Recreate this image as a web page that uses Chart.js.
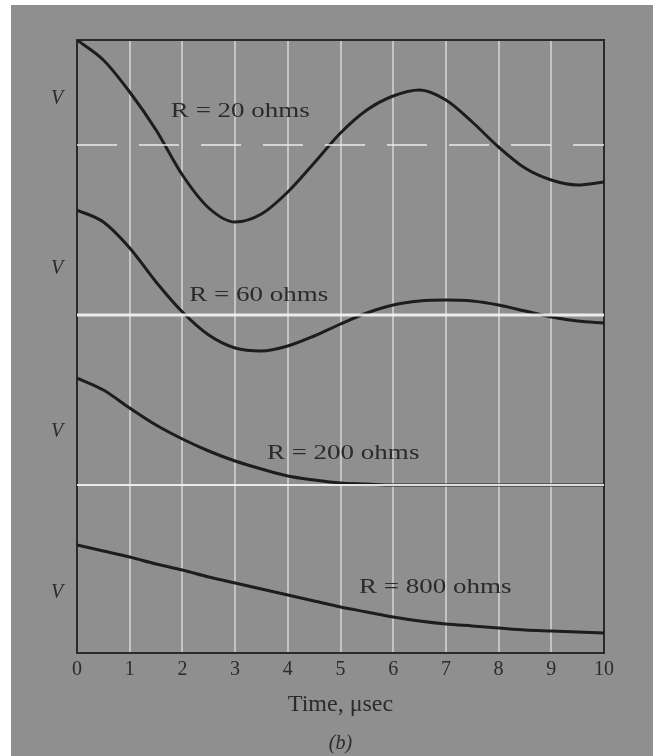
<!DOCTYPE html>
<html>
<head>
<meta charset="utf-8">
<script src="https://cdn.jsdelivr.net/npm/chart.js@4.4.0/dist/chart.umd.min.js"></script>
<style>
  html, body { margin: 0; padding: 0; background: #fff; }
  #wrap { width: 653px; height: 756px; }
</style>
</head>
<body>
<div id="wrap"><canvas id="scope" width="653" height="756"></canvas></div>
<script>
// time axis, microseconds
const times = [0, 0.5, 1, 1.5, 2, 2.5, 3, 3.5, 4, 4.5, 5, 5.5, 6, 6.5, 7, 7.5, 8, 8.5, 9, 9.5, 10];
const tickValues = [0, 1, 2, 3, 4, 5, 6, 7, 8, 9, 10];

// traces (screen divisions, stacked)
const r20 = [61.3, 59.3, 56.1, 52.3, 47.8, 44.5, 43.1, 43.9, 46.1, 49.0, 52.0, 54.3, 55.7, 56.3, 55.3, 53.1, 50.6, 48.5, 47.3, 46.8, 47.1];
const r60 = [44.3, 43.1, 40.5, 37.1, 34.1, 31.8, 30.5, 30.2, 30.7, 31.7, 32.9, 34.0, 34.8, 35.2, 35.3, 35.2, 34.8, 34.2, 33.6, 33.2, 33.0];
const r200 = [27.5, 26.3, 24.5, 22.8, 21.4, 20.2, 19.2, 18.4, 17.7, 17.3, 17.0, 16.9, 16.8, 16.8, 16.8, 16.8, 16.8, 16.8, 16.8, 16.8, 16.8];
const r800 = [10.8, 10.2, 9.6, 8.9, 8.3, 7.6, 7.0, 6.4, 5.8, 5.2, 4.6, 4.1, 3.6, 3.2, 2.9, 2.7, 2.5, 2.3, 2.2, 2.1, 2.0];

// zero lines of the upper three traces
const baselines = [50.8, 33.8, 16.8];

const traceNames = ['R = 20 ohms', 'R = 60 ohms', 'R = 200 ohms', 'R = 800 ohms'];
// where each name sits: [time, level]
const nameSpots = [[3.1, 54.1], [3.45, 35.7], [5.05, 19.9], [6.8, 6.5]];
const vSpots = [55.4, 38.4, 22.1, 6.0];

const ink = '#1d1d1d';

function trace(vals) {
  return {
    data: times.map((t, i) => ({ x: t, y: vals[i] })),
    borderColor: ink,
    borderWidth: 3,
    pointRadius: 0,
    cubicInterpolationMode: 'monotone',
    fill: false
  };
}

const lineSets = baselines.map(function(b, i) {
  return {
    data: [{ x: 0, y: b }, { x: 10, y: b }],
    borderColor: i === 0 ? 'rgba(235,235,235,0.75)' : 'rgba(245,245,245,0.9)',
    borderWidth: i === 1 ? 3 : 2,
    borderDash: i === 0 ? [40, 22] : [],
    pointRadius: 0
  };
});

const paper = {
  id: 'paper',
  beforeDraw(chart) {
    const c = chart.ctx;
    c.save();
    c.fillStyle = '#ffffff';
    c.fillRect(0, 0, chart.width, chart.height);
    c.fillStyle = '#8f8f90';
    c.fillRect(11, 5, chart.width - 11, chart.height - 5);
    c.restore();
  },
  beforeDatasetsDraw(chart) {
    const a = chart.chartArea;
    const c = chart.ctx;
    c.save();
    c.strokeStyle = '#2a2a2a';
    c.lineWidth = 2;
    c.strokeRect(a.left, a.top, a.right - a.left, a.bottom - a.top);
    c.restore();
  },
  afterDatasetsDraw(chart) {
    const c = chart.ctx;
    const xs = chart.scales.x, ys = chart.scales.y;
    c.save();
    c.fillStyle = '#2b2b2b';
    c.textAlign = 'center';
    c.textBaseline = 'middle';
    c.font = '20px "Liberation Serif", serif';
    traceNames.forEach(function(txt, i) {
      const px = xs.getPixelForValue(nameSpots[i][0]);
      const py = ys.getPixelForValue(nameSpots[i][1]);
      c.save();
      c.translate(px, py);
      c.scale(1.35, 1);
      c.fillText(txt, 0, 0);
      c.restore();
    });
    c.font = 'italic 20px "Liberation Serif", serif';
    vSpots.forEach(function(v) {
      c.fillText('V', 57, ys.getPixelForValue(v));
    });
    c.restore();
  }
};

new Chart(document.getElementById('scope'), {
  type: 'line',
  data: {
    datasets: [...lineSets, trace(r20), trace(r60), trace(r200), trace(r800)]
  },
  options: {
    responsive: false,
    animation: false,
    layout: { padding: { left: 77, right: 49, top: 40, bottom: 0 } },
    plugins: {
      legend: { display: false },
      tooltip: { enabled: false },
      title: {
        display: true,
        text: '(b)',
        position: 'bottom',
        color: '#2b2b2b',
        font: { family: '"Liberation Serif", serif', size: 20, style: 'italic', weight: 'normal' },
        padding: { top: 0, bottom: 0 }
      }
    },
    scales: {
      x: {
        type: 'linear',
        min: 0,
        max: 10,
        afterBuildTicks: function(s) { s.ticks = tickValues.map(v => ({ value: v })); },
        afterFit: function(s) { s.height = 79; },
        ticks: {
          color: '#2b2b2b',
          padding: 5,
          font: { family: '"Liberation Serif", serif', size: 20 }
        },
        grid: {
          drawTicks: false,
          lineWidth: 2,
          color: ctx => (ctx.tick && (ctx.tick.value === 0 || ctx.tick.value === 10)) ? 'rgba(0,0,0,0)' : 'rgba(225,225,225,0.65)'
        },
        border: { display: false },
        title: {
          display: true,
          text: 'Time, \u03bcsec',
          color: '#2b2b2b',
          font: { family: '"Liberation Serif", serif', size: 24 },
          padding: { top: 0, bottom: 13 }
        }
      },
      y: {
        display: false,
        min: 0,
        max: 61.3
      }
    }
  },
  plugins: [paper]
});
</script>
</body>
</html>
